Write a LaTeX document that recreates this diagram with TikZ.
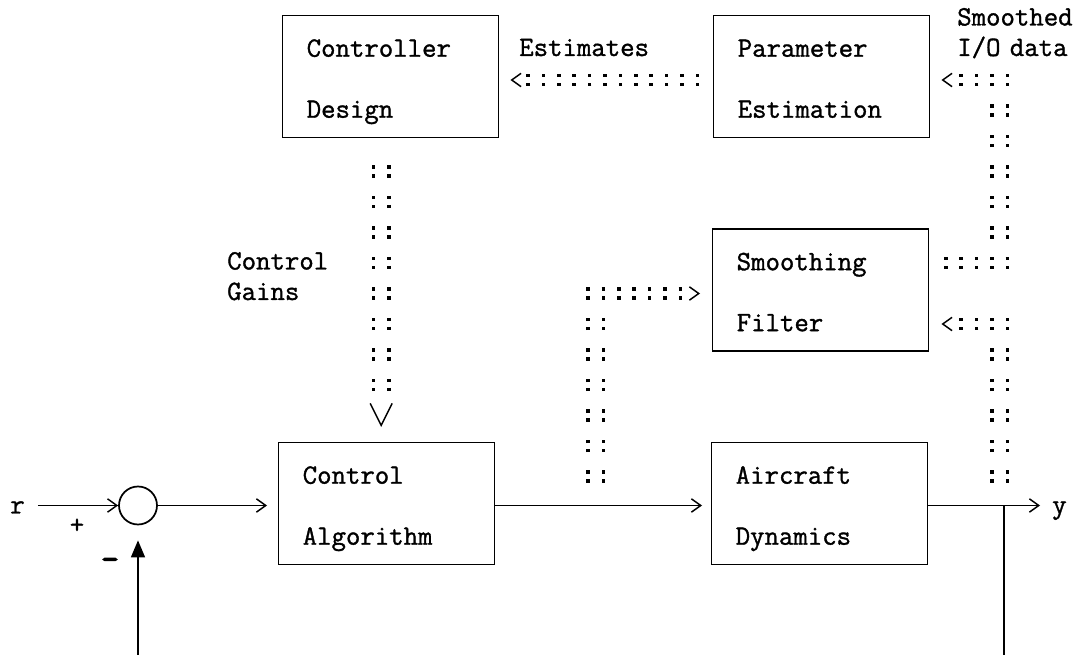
\documentclass[tikz,border=0pt]{standalone}
\usepackage{fontspec}
\usepackage{tikz}
\usetikzlibrary{arrows.meta,positioning,calc}
\newfontfamily\tw[FakeBold=1.2]{Latin Modern Mono}
\newfontfamily\twheavy[FakeBold=4]{Latin Modern Mono}
\newcommand{\twbox}{\tw\fontsize{21pt}{45.75pt}\selectfont}
\newcommand{\twlbl}{\tw\fontsize{21pt}{22.875pt}\selectfont}
\tikzset{
  blk/.style={draw,rectangle,line width=1.1pt,anchor=north west,inner xsep=18pt,inner ysep=0pt,
    text width=126pt,align=left,text height=30.75pt,text depth=60.75pt,font=\twbox},
  lbl/.style={anchor=base west,inner sep=0pt,text width=120pt,align=left,font=\twlbl},
  txt/.style={inner sep=0pt,font=\twlbl},
  sig/.style={line width=1.1pt,-{Straight Barb[length=7pt,width=10pt]}},
  colrow/.style={line width=2.6pt,double distance=4.15pt,dash pattern=on 2.6pt off 8.95pt},
  colcol/.style={line width=2.6pt,double distance=8.95pt,dash pattern=on 2.6pt off 4.15pt on 2.6pt off 13.525pt},
  chev/.style={line width=1.1pt,dash pattern=on 0pt off 60pt,-{Straight Barb[length=7pt,width=10pt]}},
}
\begin{document}
\begin{tikzpicture}[x=0.75pt,y=-0.75pt]
  \useasboundingbox (0,0) rectangle (1082,655);
  % blocks
  \node[blk] (design) at (282,15) {Controller\\Design};
  \node[blk] (param) at (713,15) {Parameter\\Estimation};
  \node[blk] (smooth) at (712,228.5) {Smoothing\\Filter};
  \node[blk] (ctrl) at (278,442) {Control\\Algorithm};
  \node[blk] (plant) at (711,442) {Aircraft\\Dynamics};
  \node[circle,draw,line width=1.3pt,minimum size=28.5pt,inner sep=0pt] (sum) at (138,505.5) {};
  % labels
  \node[txt,anchor=base west] (r) at (10,513.5) {r};
  \node[txt,anchor=base west] (y) at (1052,513.5) {y};
  \node[txt] (plus) at (77,526) {+};
  \node[txt,font=\twheavy\fontsize{25pt}{25pt}\selectfont] (minus) at (110,564) {-};
  \node[lbl] (est) at (519,56) {Estimates};
  \node[lbl] (gains) at (227,269.5) {Control\\Gains};
  \node[lbl] (sio) at (957,25.5) {Smoothed\\I/O data};
  % main loop
  \coordinate (br) at (1004,505.5);
  \coordinate (fbR) at (1004,655);
  \coordinate (fbL) at (138,655);
  \draw[sig] ([xshift=9.75pt]r.east |- sum) -- (sum.west);
  \draw[sig,shorten >=8.25pt] (sum.east) -- (ctrl.west |- sum);
  \draw[sig,shorten >=6.75pt] (ctrl.east |- sum) -- (plant.west |- sum);
  \draw[sig,shorten >=9pt] (plant.east |- sum) -- (y.west |- sum);
  \draw[line width=1.1pt] (br) -- (fbR);
  \draw[line width=1.1pt,-{Triangle[length=12.75pt,width=10.5pt]},shorten >=11.25pt] (fbL) -- (sum.south);
  % estimates
  \coordinate (eA) at (699.1,80);
  \coordinate (eB) at (526.3,80);
  \draw[colrow] (eA) -- (eB);
  \draw[chev,shorten >=8.25pt] (eB) -- (design.east |- eB);
  % control gains
  \coordinate (gA) at (381.2,165.27);
  \coordinate (gB) at (381.2,391.23);
  \draw[colcol] (gA) -- (gB);
  \draw[chev,-{Straight Barb[length=16.5pt,width=16.5pt]},shorten >=11.25pt] (gB) -- (gB |- ctrl.north);
  % I/O data to the filter
  \coordinate (mA) at (595.7,482.73);
  \coordinate (mB) at (595.7,317.77);
  \coordinate (mC) at (586.27,293.5);
  \coordinate (mD) at (682.13,293.5);
  \draw[colcol] (mA) -- (mB);
  \draw[colrow] (mC) -- (mD);
  \draw[chev,shorten >=9pt] (mD) -- (smooth.west |- mD);
  % smoothed data
  \coordinate (sA) at (944.07,263);
  \coordinate (sB) at (1009.13,263);
  \coordinate (sC) at (999.7,238.73);
  \coordinate (sD) at (999.7,104.27);
  \coordinate (sE) at (1009.13,80);
  \coordinate (sF) at (959.47,80);
  \draw[colrow] (sA) -- (sB);
  \draw[colcol] (sC) -- (sD);
  \draw[colrow] (sE) -- (sF);
  \draw[chev,shorten >=8.25pt] (sF) -- (param.east |- sF);
  % output data to the filter
  \coordinate (oA) at (999.7,482.73);
  \coordinate (oB) at (999.7,348.27);
  \coordinate (oC) at (1009.13,324);
  \coordinate (oD) at (959.47,324);
  \draw[colcol] (oA) -- (oB);
  \draw[colrow] (oC) -- (oD);
  \draw[chev,shorten >=9pt] (oD) -- (smooth.east |- oD);
\end{tikzpicture}
\end{document}
